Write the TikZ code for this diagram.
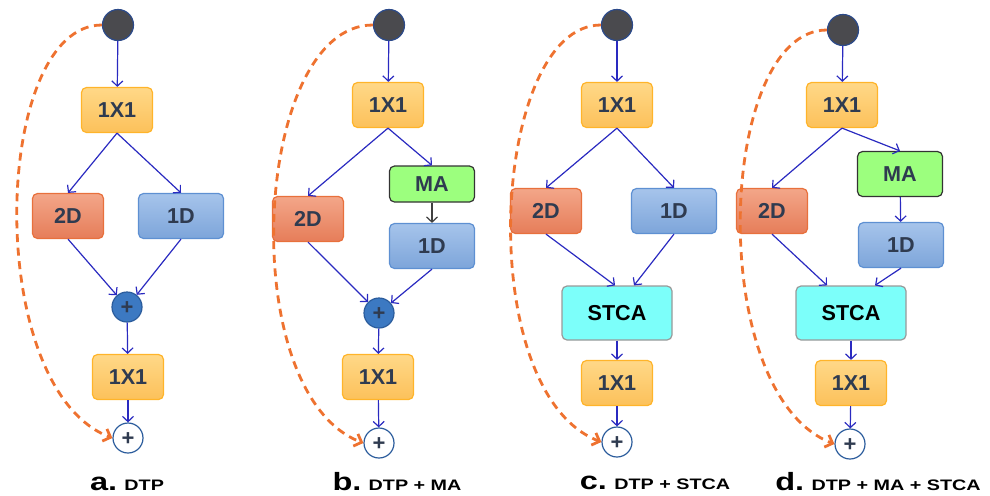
\documentclass[tikz,border=0pt]{standalone}
\usepackage{fontspec}
\setmainfont{Liberation Sans}
\newfontfamily\lblfont[FakeStretch=1.3]{Liberation Sans}
\usetikzlibrary{arrows.meta}
\definecolor{txt}{HTML}{2F3B50}
\definecolor{flow}{HTML}{2A2AC0}
\definecolor{skip}{HTML}{EE7230}
\definecolor{onexT}{HTML}{FFD888}
\definecolor{onexD}{HTML}{FCC15A}
\definecolor{onexB}{HTML}{FFB42A}
\definecolor{twodT}{HTML}{F3A689}
\definecolor{twodD}{HTML}{E67D59}
\definecolor{twodB}{HTML}{E8703C}
\definecolor{onedT}{HTML}{A6C4EB}
\definecolor{onedD}{HTML}{7DA5DA}
\definecolor{onedB}{HTML}{5E90D2}
\definecolor{mafill}{HTML}{9CFF7E}
\definecolor{stcafill}{HTML}{7CFFFA}
\definecolor{srcfill}{HTML}{4A4A4E}
\definecolor{srcline}{HTML}{2C4A8A}
\definecolor{addfill}{HTML}{3C79C2}
\definecolor{addline}{HTML}{2B5C9C}
\tikzset{
  blk/.style={draw, rounded corners=2.5pt, inner sep=0pt, minimum width=35.5pt, minimum height=22.5pt, line width=0.6pt, text=txt, font=\fontsize{10.8}{12}\selectfont\bfseries},
  onex/.style={blk, draw=onexB, top color=onexT, bottom color=onexD},
  twod/.style={blk, draw=twodB, top color=twodT, bottom color=twodD},
  oned/.style={blk, draw=onedB, top color=onedT, bottom color=onedD, minimum width=42.5pt},
  mablk/.style={blk, draw=black!80, fill=mafill, minimum width=42.5pt},
  stca/.style={blk, draw=black!40, fill=stcafill, text=black, minimum width=55pt, minimum height=27pt},
  src/.style={circle, draw=srcline, fill=srcfill, line width=0.6pt, minimum size=15.5pt, inner sep=0pt},
  addf/.style={circle, draw=addline, fill=addfill, line width=0.6pt, minimum size=15pt, inner sep=0pt, text=txt, font=\fontsize{11}{12}\selectfont\bfseries},
  addo/.style={addf, fill=white},
  arr/.style={-{Straight Barb[length=2.6pt, width=5.5pt]}, draw=flow, line width=0.6pt},
  garr/.style={arr, draw=black!75},
  darr/.style={-{Straight Barb[length=3.2pt, width=6.5pt]}, draw=skip, line width=1.4pt, dash pattern=on 4pt off 2.8pt},
  lbl/.style={font=\lblfont\bfseries\fontsize{7.6}{9}\selectfont, inner sep=0pt}
}
\newcommand{\panelmark}[1]{{\fontsize{12.5}{14}\selectfont #1}}
\newcommand{\addsign}{\raisebox{-0.34em}[0pt][0pt]{+}}

\begin{document}
\begin{tikzpicture}[x=0.5pt, y=-0.5pt]
\useasboundingbox (0,0) rectangle (990,495);
% a. DTP
\node[src] (a0) at (118,25) {};
\node[onex] (a1) at (117,110) {1X1};
\node[twod] (a2) at (68,216) {2D};
\node[oned] (a3) at (181,216) {1D};
\node[addf] (a4) at (127,307) {\addsign};
\node[onex] (a5) at (128,377) {1X1};
\node[addo] (a6) at (128,438) {\addsign};
\node[lbl] (la) at (127,484) {\panelmark{a.} DTP};
\draw[arr] (a0) -- (a1);
\foreach \t in {a2,a3} \draw[arr] (a1.south) -- (\t.north);
\foreach \s in {a2,a3} \draw[arr] (\s.south) -- (a4);
\foreach \s/\t in {a4/a5,a5/a6} \draw[arr] (\s) -- (\t);
\draw[darr] (a0.west) .. controls +(-110,0) and +(-130,-50) .. (a6.west);

% b. DTP + MA
\node[src] (b0) at (389,25) {};
\node[onex] (b1) at (388,105) {1X1};
\node[mablk, minimum height=18pt] (bm) at (432,184) {MA};
\node[twod] (b2) at (308,219) {2D};
\node[oned] (b3) at (432,246) {1D};
\node[addf] (b4) at (379,313) {\addsign};
\node[onex] (b5) at (378,377) {1X1};
\node[addo] (b6) at (379,443) {\addsign};
\node[lbl] (lb) at (397,482) {\panelmark{b.} DTP + MA};
\draw[arr] (b0) -- (b1);
\foreach \t in {b2,bm} \draw[arr] (b1.south) -- (\t.north);
\draw[garr] (bm) -- (b3);
\foreach \s in {b2,b3} \draw[arr] (\s.south) -- (b4);
\foreach \s/\t in {b4/b5,b5/b6} \draw[arr] (\s) -- (\t);
\draw[darr] (b0.west) .. controls +(-120,0) and +(-130,-50) .. (b6.west);

% c. DTP + STCA
\node[src] (c0) at (617,25) {};
\node[onex] (c1) at (617,105) {1X1};
\node[twod] (c2) at (546,211) {2D};
\node[oned] (c3) at (674,211) {1D};
\node[stca] (c4) at (617,313) {STCA};
\node[onex] (c5) at (617,383) {1X1};
\node[addo] (c6) at (617,442) {\addsign};
\node[lbl] (lc) at (655,483) {\panelmark{c.} DTP + STCA};
\draw[arr] (c0) -- (c1);
\foreach \t in {c2,c3} \draw[arr] (c1.south) -- (\t.north);
\draw[arr] (c2.south) -- ([xshift=-1pt]c4.north);
\draw[arr] (c3.south) -- ([xshift=8.5pt]c4.north);
\foreach \s/\t in {c4/c5,c5/c6} \draw[arr] (\s) -- (\t);
\draw[darr] (c0.west) .. controls +(-110,0) and +(-130,-50) .. (c6.west);

% d. DTP + MA + STCA
\node[src] (d0) at (843,30) {};
\node[onex] (d1) at (842,105) {1X1};
\node[mablk] (dm) at (900,174) {MA};
\node[twod] (d2) at (772,211) {2D};
\node[oned] (d3) at (901,245) {1D};
\node[stca] (d4) at (851,313) {STCA};
\node[onex] (d5) at (851,383) {1X1};
\node[addo] (d6) at (850,444) {\addsign};
\node[lbl] (ld) at (878,482) {\panelmark{d.} DTP + MA + STCA};
\draw[arr] (d0) -- (d1);
\foreach \t in {d2,dm} \draw[arr] (d1.south) -- (\t.north);
\draw[arr] (dm) -- (d3);
\draw[arr] (d2.south) -- ([xshift=-12pt]d4.north);
\draw[arr] (d3.south) -- ([xshift=12pt]d4.north);
\foreach \s/\t in {d4/d5,d5/d6} \draw[arr] (\s) -- (\t);
\draw[darr] (d0.west) .. controls +(-110,0) and +(-130,-50) .. (d6.west);
\end{tikzpicture}
\end{document}
